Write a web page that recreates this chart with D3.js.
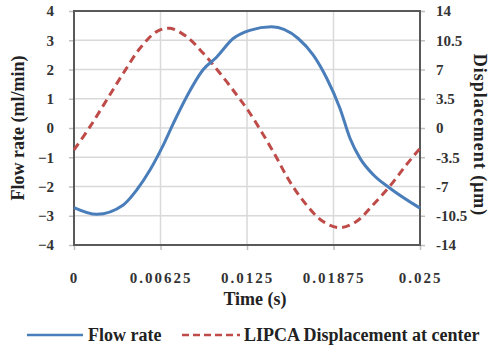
<!DOCTYPE html>
<html>
<head>
<meta charset="utf-8">
<script src="https://cdn.jsdelivr.net/npm/d3@7"></script>
<style>
  body { margin: 0; background: #fff; }
</style>
</head>
<body>
<div id="chart"></div>
<script>
// ---- data ----
var flowTime = [0, 0.00164, 0.00356, 0.00453, 0.0055, 0.00634, 0.00718, 0.00814, 0.00934, 0.0103, 0.0115, 0.0127, 0.01428, 0.0162, 0.01729, 0.01826, 0.01922, 0.01994, 0.02066, 0.02163, 0.02283, 0.025];
var flowRate = [-2.72, -2.95, -2.63, -2.12, -1.43, -0.69, 0.16, 1.07, 2.0, 2.42, 3.06, 3.34, 3.46, 3.06, 2.49, 1.70, 0.67, -0.35, -1.03, -1.60, -2.06, -2.74];

var dispTime = [0, 0.00116, 0.00236, 0.00356, 0.00477, 0.00597, 0.00694, 0.00814, 0.00934, 0.01055, 0.01176, 0.0127, 0.0144, 0.0156, 0.0168, 0.018, 0.0192, 0.0204, 0.0216, 0.0228, 0.024, 0.025];
var dispVal = [-2.63, 0.16, 3.35, 6.55, 9.54, 11.53, 11.93, 10.93, 8.94, 6.55, 3.95, 1.8, -2.84, -6.43, -9.21, -11.2, -11.93, -11.2, -9.21, -7.0, -4.43, -2.43];

var xTicks = [0, 0.00625, 0.0125, 0.01875, 0.025];
var xTickLabels = ["0", "0.00625", "0.0125", "0.01875", "0.025"];
var leftTicks = [-4, -3, -2, -1, 0, 1, 2, 3, 4];
var rightTicks = [-14, -10.5, -7, -3.5, 0, 3.5, 7, 10.5, 14];
var seriesNames = ["Flow rate", "LIPCA Displacement at center"];

var W = 489, H = 349;
var plot = {left: 74, right: 420, top: 11, bottom: 245};
var FONT = "Liberation Serif, Times New Roman, serif";

var svg = d3.select("#chart").append("svg")
    .attr("width", W).attr("height", H)
    .attr("font-family", FONT);

var x = d3.scaleLinear().domain([0, 0.025]).range([plot.left, plot.right]);
var yL = d3.scaleLinear().domain([-4, 4]).range([plot.bottom, plot.top]);
var yR = d3.scaleLinear().domain([-14, 14]).range([plot.bottom, plot.top]);

// gridlines
svg.append("g").selectAll("line").data(leftTicks).enter().append("line")
    .attr("x1", plot.left).attr("x2", plot.right)
    .attr("y1", function(d){ return yL(d); }).attr("y2", function(d){ return yL(d); })
    .attr("stroke", "#d9d9d9").attr("stroke-width", 1.5);
svg.append("g").selectAll("line").data(xTicks).enter().append("line")
    .attr("x1", function(d){ return x(d); }).attr("x2", function(d){ return x(d); })
    .attr("y1", plot.top).attr("y2", plot.bottom)
    .attr("stroke", "#d9d9d9").attr("stroke-width", 1.5);

// axes
var axL = svg.append("g").attr("transform", "translate(" + plot.left + ",0)")
    .call(d3.axisLeft(yL).tickValues(leftTicks).tickSize(5).tickPadding(15));
var axR = svg.append("g").attr("transform", "translate(" + plot.right + ",0)")
    .call(d3.axisRight(yR).tickValues(rightTicks).tickSize(5).tickPadding(11)
      .tickFormat(function(d){ return String(d); }));
var axB = svg.append("g").attr("transform", "translate(0," + plot.bottom + ")")
    .call(d3.axisBottom(x).tickValues(xTicks).tickSize(5).tickPadding(22)
      .tickFormat(function(d, i){ return xTickLabels[i]; }));

[axL, axR, axB].forEach(function(a){
  a.attr("font-family", FONT);
  a.select(".domain").remove();
  a.selectAll(".tick line").attr("stroke", "#bfbfbf").attr("stroke-width", 1.5);
  a.selectAll(".tick text").attr("font-family", FONT).attr("font-size", 15)
    .attr("font-weight", "bold").attr("fill", "#333");
});
axB.selectAll(".tick text").attr("letter-spacing", 2);

// border
svg.append("rect")
    .attr("x", plot.left).attr("y", plot.top)
    .attr("width", plot.right - plot.left).attr("height", plot.bottom - plot.top)
    .attr("fill", "none").attr("stroke", "#595959").attr("stroke-width", 2);

// lines
var flowLine = d3.line()
    .x(function(d, i){ return x(flowTime[i]); })
    .y(function(d){ return yL(d); })
    .curve(d3.curveMonotoneX);
var dispLine = d3.line()
    .x(function(d, i){ return x(dispTime[i]); })
    .y(function(d){ return yR(d); })
    .curve(d3.curveCatmullRom);

svg.append("path").datum(dispVal).attr("d", dispLine)
    .attr("fill", "none").attr("stroke", "#be4b48").attr("stroke-width", 3)
    .attr("stroke-dasharray", "8,5");
svg.append("path").datum(flowRate).attr("d", flowLine)
    .attr("fill", "none").attr("stroke", "#4a7ebb").attr("stroke-width", 3);

// axis titles
function label(sel, size){
  return sel.attr("font-family", FONT).attr("font-size", size)
    .attr("font-weight", "bold").attr("fill", "#222");
}
label(svg.append("text").attr("transform", "translate(24,128) rotate(-90)")
    .attr("text-anchor", "middle"), 18).text("Flow rate (ml/min)");
label(svg.append("text").attr("transform", "translate(474,135) rotate(90)")
    .attr("text-anchor", "middle").attr("letter-spacing", 1), 18).text("Displacement (μm)");
label(svg.append("text").attr("x", 255).attr("y", 305)
    .attr("text-anchor", "middle"), 18).text("Time (s)");

// legend
var lg = svg.append("g");
lg.append("line").attr("x1", 27).attr("x2", 83).attr("y1", 335).attr("y2", 335)
    .attr("stroke", "#4a7ebb").attr("stroke-width", 2.5);
label(lg.append("text").attr("x", 88).attr("y", 341), 18).text(seriesNames[0]);
lg.append("line").attr("x1", 182).attr("x2", 240).attr("y1", 335).attr("y2", 335)
    .attr("stroke", "#be4b48").attr("stroke-width", 2.5).attr("stroke-dasharray", "7,4");
label(lg.append("text").attr("x", 244).attr("y", 341), 18).text(seriesNames[1]);
</script>
</body>
</html>
